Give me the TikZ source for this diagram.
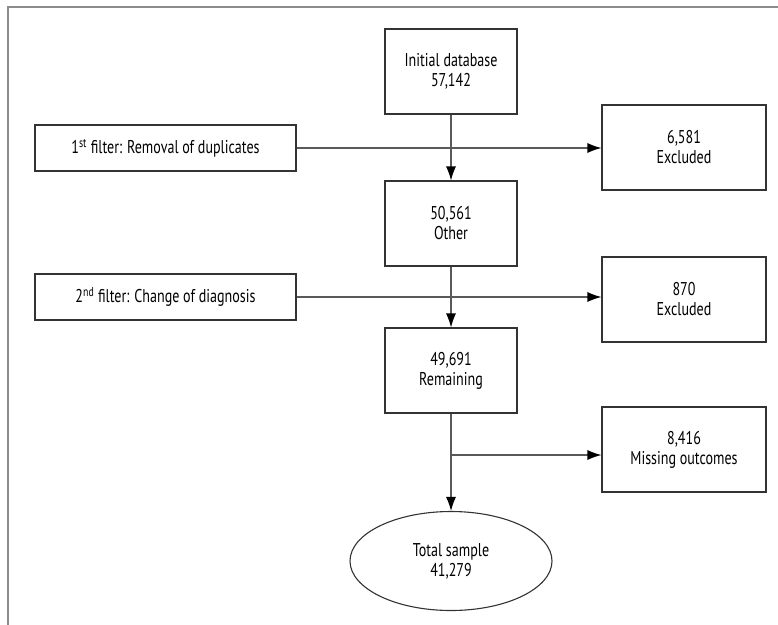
\documentclass[tikz,border=0pt]{standalone}
\usepackage{fontspec}
\setmainfont{PT Sans}[FakeStretch=0.76]
\usetikzlibrary{arrows.meta, positioning, shapes.geometric}

\begin{document}
\begin{tikzpicture}[
    x=1pt, y=-1pt,
    every node/.style={font=\fontsize{18.5}{20}\selectfont, align=center},
    box/.style={draw=black!80, line width=1.1pt, minimum width=132pt, minimum height=85pt, inner sep=0pt},
    filterbox/.style={draw=black!80, line width=1.1pt, minimum width=261pt, minimum height=46pt, inner sep=0pt},
    exbox/.style={draw=black!80, line width=1.1pt, minimum width=164pt, minimum height=85pt, inner sep=0pt},
    flow/.style={draw=black!65, line width=1.1pt, -{Latex[length=14pt, width=10pt, black]}},
    frame/.style={draw=black!45, line width=2pt}
  ]
    \useasboundingbox (0,0) rectangle (778,624);
    \draw[frame] (8,700) -- (8,7) -- (800,7);

    % Main column
    \node[box] at (451,71.5) (init) {Initial database\\57,142};
    \node[box] at (451,223.5) (other) {50,561\\Other};
    \node[box] at (451,370.5) (rem) {49,691\\Remaining};
    \node[ellipse, draw=black!80, line width=1.1pt, minimum width=202pt, minimum height=99pt, inner sep=0pt] at (451,561) (total) {Total sample\\41,279};

    % Filters (left)
    \node[filterbox] at (165.5,148) (f1) {1\textsuperscript{st} filter: Removal of duplicates};
    \node[filterbox] at (165.5,297) (f2) {2\textsuperscript{nd} filter: Change of diagnosis};

    % Exclusions (right)
    \node[exbox] at (684,147.5) (ex1) {6,581\\Excluded};
    \node[exbox] at (684,299.5) (ex2) {870\\Excluded};
    \node[exbox] at (684,449.5) (ex3) {8,416\\Missing outcomes};

    \coordinate (br) at (451,455);

    \draw[flow] (init) -- (other);
    \draw[flow] (other) -- (rem);
    \draw[flow] (rem) -- (total);
    \draw[flow] (f1.east) -- (f1.east -| ex1.west);
    \draw[flow] (f2.east) -- (f2.east -| ex2.west);
    \draw[flow] (br) -- (br -| ex3.west);
  \end{tikzpicture}
\end{document}
